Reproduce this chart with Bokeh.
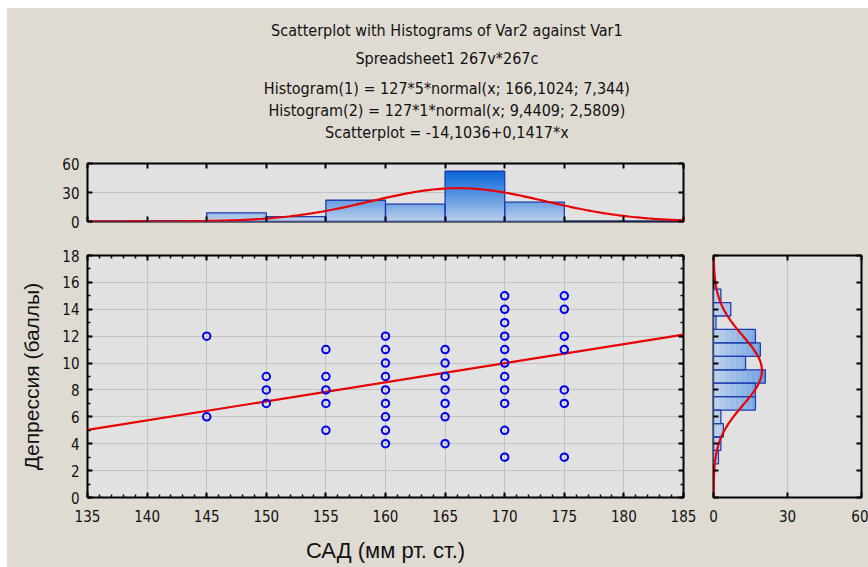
import numpy as np
from bokeh.plotting import figure
from bokeh.models import (Range1d, LinearAxis, SingleIntervalTicker, FixedTicker,
                          Label, Spacer)
from bokeh.layouts import column, row
from bokeh.embed import file_html
from bokeh.resources import INLINE

# ---------------- data ----------------
sad_x = [145, 145,
         150, 150, 150,
         155, 155, 155, 155, 155,
         160, 160, 160, 160, 160, 160, 160, 160, 160,
         165, 165, 165, 165, 165, 165, 165,
         170, 170, 170, 170, 170, 170, 170, 170, 170, 170, 170,
         175, 175, 175, 175, 175, 175, 175]
dep_y = [12, 6,
         9, 8, 7,
         11, 9, 8, 7, 5,
         12, 11, 10, 9, 8, 7, 6, 5, 4,
         11, 10, 9, 8, 7, 6, 4,
         15, 14, 13, 12, 11, 10, 9, 8, 7, 5, 3,
         15, 14, 12, 11, 8, 7, 3]

hist1_left = [135, 140, 145, 150, 155, 160, 165, 170, 175, 180]
hist1_counts = [0, 1, 9, 5, 22, 18, 52, 20, 0, 0]
hist1_width = 5

hist2_centers = [3, 4, 5, 6, 7, 8, 9, 10, 11, 12, 13, 14, 15]
hist2_counts = [2, 3, 4, 3, 17, 17, 21, 13, 19, 17, 1, 7, 3]
hist2_width = 1

reg_intercept = -14.1036
reg_slope = 0.1417
h1_n, h1_w, h1_mu, h1_sd = 127, 5, 166.1024, 7.344
h2_n, h2_w, h2_mu, h2_sd = 127, 1, 9.4409, 2.5809

title_lines = ["Scatterplot with Histograms of Var2 against Var1",
               "Spreadsheet1 267v*267c",
               "Histogram(1) = 127*5*normal(x; 166,1024; 7,344)",
               "Histogram(2) = 127*1*normal(x; 9,4409; 2,5809)",
               "Scatterplot = -14,1036+0,1417*x"]
x_label = "САД (мм рт. ст.)"
y_label = "Депрессия (баллы)"

# ---------------- style ----------------
BEIGE = "#DFDBD2"
PLOTBG = "#E1E1E1"
GRIDC = "#C2C2C2"
NARROW = "'DejaVu Sans Condensed', 'Liberation Sans', sans-serif"
REG = "'Liberation Sans', sans-serif"
BAR_EDGE = "#1F3FB0"
RED = "#E80000"
LIGHT = np.array([196, 213, 237])
DARK = np.array([0, 98, 218])


def grad(v):
    t = min(max(v / 52.0, 0.0), 1.0) ** 0.85
    c = LIGHT + (DARK - LIGHT) * t
    return "#%02x%02x%02x" % tuple(int(round(a)) for a in c)


def style_axis(ax, labels=True, minor=True):
    ax.axis_line_color = None
    ax.major_tick_line_color = "black"
    ax.major_tick_line_width = 2
    ax.major_tick_in = 5
    ax.major_tick_out = 0
    if minor:
        ax.minor_tick_line_color = "black"
        ax.minor_tick_line_width = 1.5
        ax.minor_tick_in = 3
        ax.minor_tick_out = 0
    else:
        ax.minor_tick_line_color = None
    if labels:
        ax.major_label_text_font = NARROW
        ax.major_label_text_font_size = "15px"
        ax.major_label_text_color = "#111111"
    else:
        ax.major_label_text_color = None
        ax.major_label_text_font_size = "1px"
        ax.major_label_standoff = 0


def base_fig(w, h, xr, yr, bl, br, bt, bb):
    p = figure(width=w, height=h, x_range=xr, y_range=yr,
               output_backend="svg", toolbar_location=None,
               min_border_left=bl, min_border_right=br,
               min_border_top=bt, min_border_bottom=bb)
    p.background_fill_color = PLOTBG
    p.border_fill_color = BEIGE
    p.outline_line_color = "black"
    p.outline_line_width = 2
    p.xgrid.grid_line_color = GRIDC
    p.ygrid.grid_line_color = GRIDC
    return p


# ---------------- title figure ----------------
# (its frame is aligned by the column layout with the histogram frame below: 597 px wide)
pt = figure(width=861, height=142, x_range=Range1d(0, 597), y_range=Range1d(0, 142),
            x_axis_type=None, y_axis_type=None, output_backend="svg",
            toolbar_location=None, min_border=0)
pt.background_fill_color = None
pt.border_fill_color = BEIGE
pt.outline_line_color = None
pt.grid.visible = False
title_y = [120, 92, 62, 40, 18]
for txt, ty in zip(title_lines, title_y):
    pt.add_layout(Label(x=360, y=ty, text=txt, text_align="center",
                        text_baseline="middle", text_font=NARROW,
                        text_font_size="16px", text_color="#111111"))

# ---------------- top histogram ----------------
ph = base_fig(861, 88, Range1d(135, 185), Range1d(0, 60), 80, 185, 13, 17)
ph.xaxis[0].ticker = SingleIntervalTicker(interval=5, num_minor_ticks=0)
style_axis(ph.xaxis[0], labels=False, minor=False)
ph.yaxis[0].ticker = FixedTicker(ticks=[0, 30, 60])
style_axis(ph.yaxis[0], labels=True, minor=False)
ph.yaxis[0].major_label_standoff = 8
ax = LinearAxis(ticker=SingleIntervalTicker(interval=5, num_minor_ticks=0))
style_axis(ax, labels=False, minor=False)
ph.add_layout(ax, "above")
ax = LinearAxis(ticker=FixedTicker(ticks=[0, 30, 60]))
style_axis(ax, labels=False, minor=False)
ph.add_layout(ax, "right")
ph.xgrid.visible = False

sl, sr, sb, stp, sc = [], [], [], [], []
for lo, c in zip(hist1_left, hist1_counts):
    k = 0.0
    while k < c:
        top = min(k + 0.5, c)
        sl.append(lo); sr.append(lo + hist1_width); sb.append(k); stp.append(top)
        sc.append(grad((k + top) / 2))
        k = top
ph.quad(left=sl, right=sr, bottom=sb, top=stp, fill_color=sc, line_color=sc, line_width=0.3)
ph.quad(left=hist1_left, right=[v + hist1_width for v in hist1_left],
        bottom=0, top=hist1_counts, fill_color=None, line_color=BAR_EDGE, line_width=1.3)
cx = np.linspace(135, 185, 251)
cy = h1_n * h1_w * np.exp(-0.5 * ((cx - h1_mu) / h1_sd) ** 2) / (h1_sd * np.sqrt(2 * np.pi))
ph.line(cx, cy, line_color=RED, line_width=2.2)

# ---------------- scatter ----------------
ps = base_fig(698, 329, Range1d(135, 185), Range1d(0, 18), 80, 22, 17, 70)
ps.xaxis[0].ticker = SingleIntervalTicker(interval=5, num_minor_ticks=5)
ps.yaxis[0].ticker = SingleIntervalTicker(interval=2, num_minor_ticks=2)
style_axis(ps.xaxis[0])
style_axis(ps.yaxis[0])
ps.xaxis[0].major_label_standoff = 12
ps.yaxis[0].major_label_standoff = 8
ps.xaxis[0].axis_label = x_label
ps.xaxis[0].axis_label_text_font = REG
ps.xaxis[0].axis_label_text_font_size = "22px"
ps.xaxis[0].axis_label_text_font_style = "normal"
ps.xaxis[0].axis_label_text_color = "#111111"
ps.xaxis[0].axis_label_standoff = 13
ps.yaxis[0].axis_label = y_label
ps.yaxis[0].axis_label_text_font = REG
ps.yaxis[0].axis_label_text_font_size = "21px"
ps.yaxis[0].axis_label_text_font_style = "normal"
ps.yaxis[0].axis_label_text_color = "#111111"
ps.yaxis[0].axis_label_standoff = 16
ax = LinearAxis(ticker=SingleIntervalTicker(interval=5, num_minor_ticks=5))
style_axis(ax, labels=False)
ps.add_layout(ax, "above")
ax = LinearAxis(ticker=SingleIntervalTicker(interval=2, num_minor_ticks=2))
style_axis(ax, labels=False)
ps.add_layout(ax, "right")

rx = np.array([135.0, 185.0])
ps.line(rx, reg_intercept + reg_slope * rx, line_color=RED, line_width=2.2)
ps.scatter(sad_x, dep_y, marker="circle", size=7.5, fill_color=None,
           line_color="#0000F0", line_width=2)

# ---------------- right histogram ----------------
pr = base_fig(163, 329, Range1d(0, 60), Range1d(0, 18), 8, 7, 17, 70)
pr.xaxis[0].ticker = FixedTicker(ticks=[0, 30, 60])
style_axis(pr.xaxis[0], labels=True, minor=False)
pr.xaxis[0].major_label_standoff = 12
pr.yaxis[0].ticker = SingleIntervalTicker(interval=2, num_minor_ticks=0)
style_axis(pr.yaxis[0], labels=False, minor=False)
ax = LinearAxis(ticker=FixedTicker(ticks=[0, 30, 60]))
style_axis(ax, labels=False, minor=False)
pr.add_layout(ax, "above")
ax = LinearAxis(ticker=SingleIntervalTicker(interval=2, num_minor_ticks=0))
style_axis(ax, labels=False, minor=False)
pr.add_layout(ax, "right")
pr.ygrid.visible = False

sl, sr, sb, stp, sc = [], [], [], [], []
for ctr, c in zip(hist2_centers, hist2_counts):
    k = 0.0
    while k < c:
        rt = min(k + 0.5, c)
        sb.append(ctr - hist2_width / 2); stp.append(ctr + hist2_width / 2)
        sl.append(k); sr.append(rt); sc.append(grad((k + rt) / 2))
        k = rt
pr.quad(left=sl, right=sr, bottom=sb, top=stp, fill_color=sc, line_color=sc, line_width=0.3)
pr.quad(left=0, right=hist2_counts,
        bottom=[v - hist2_width / 2 for v in hist2_centers],
        top=[v + hist2_width / 2 for v in hist2_centers],
        fill_color=None, line_color=BAR_EDGE, line_width=1.3)
ry = np.linspace(0, 18, 201)
rxv = h2_n * h2_w * np.exp(-0.5 * ((ry - h2_mu) / h2_sd) ** 2) / (h2_sd * np.sqrt(2 * np.pi))
pr.line(rxv, ry, line_color=RED, line_width=2.2)

# ---------------- layout ----------------
main = column(pt, ph, row(ps, pr, spacing=0, styles={"background-color": BEIGE}),
              spacing=0, styles={"background-color": BEIGE})
page = column(Spacer(width=868, height=8),
              row(Spacer(width=7, height=559), main, spacing=0), spacing=0)

open("out.html", "w").write(file_html(page, INLINE))
